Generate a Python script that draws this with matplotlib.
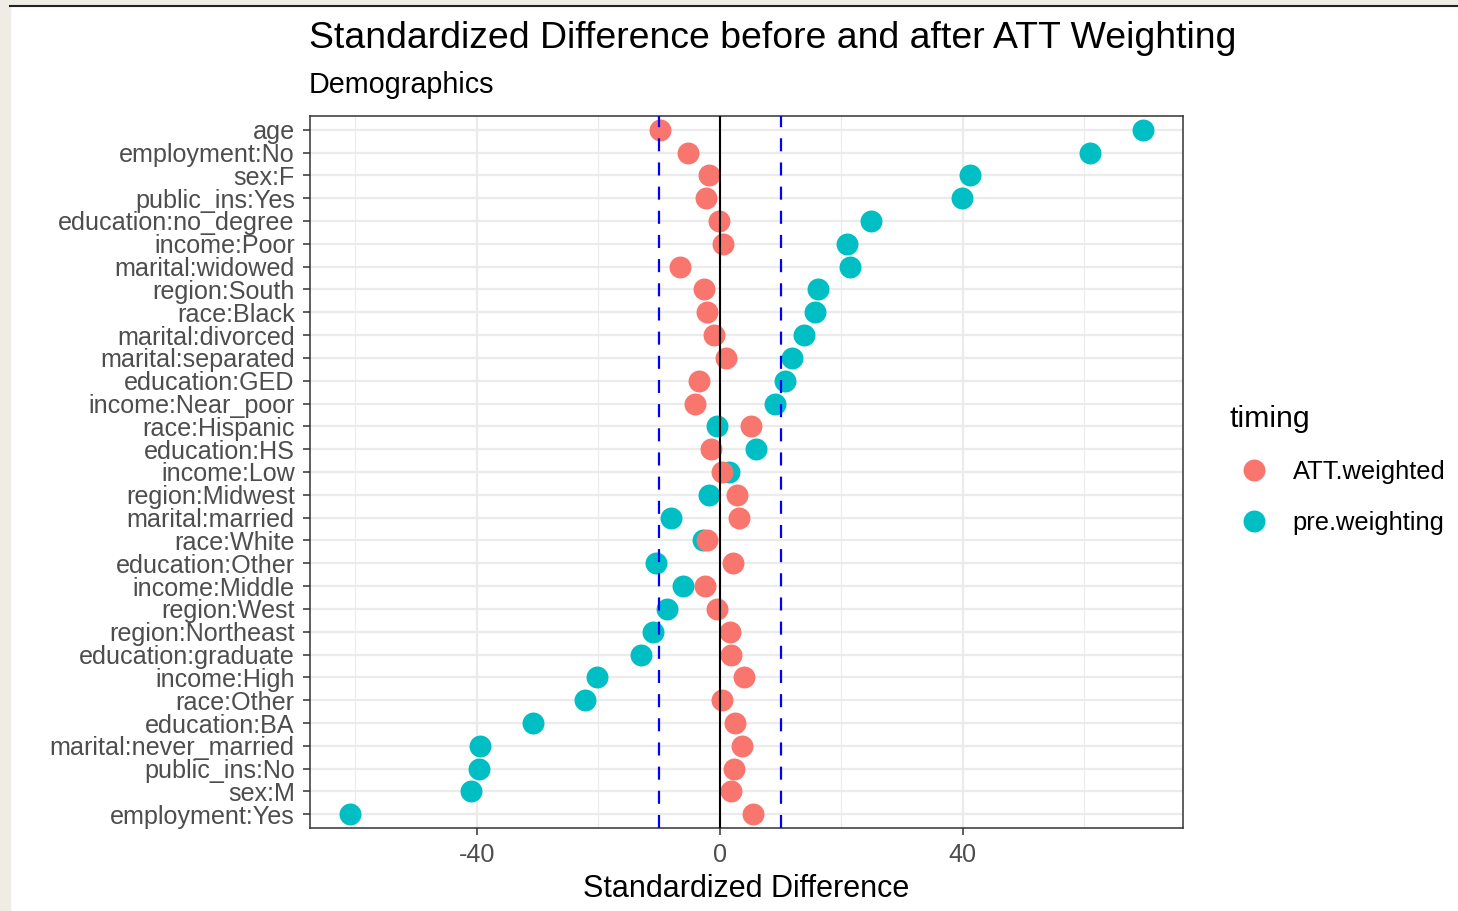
import numpy as np
import matplotlib.pyplot as plt
from matplotlib.lines import Line2D
from matplotlib.patches import Rectangle

plt.rcParams['font.family'] = ['Liberation Sans', 'DejaVu Sans']
plt.rcParams['lines.scale_dashes'] = False

# covariates, top to bottom
covariates = ['age', 'employment:No', 'sex:F', 'public_ins:Yes', 'education:no_degree',
              'income:Poor', 'marital:widowed', 'region:South', 'race:Black',
              'marital:divorced', 'marital:separated', 'education:GED', 'income:Near_poor',
              'race:Hispanic', 'education:HS', 'income:Low', 'region:Midwest',
              'marital:married', 'race:White', 'education:Other', 'income:Middle',
              'region:West', 'region:Northeast', 'education:graduate', 'income:High',
              'race:Other', 'education:BA', 'marital:never_married', 'public_ins:No',
              'sex:M', 'employment:Yes']

pre_weighting = [69.7, 61.0, 41.1, 39.9, 24.9, 21.0, 21.5, 16.1, 15.6, 13.8, 11.9,
                 10.7, 9.1, -0.4, 5.9, 1.5, -1.7, -8.0, -2.8, -10.5, -6.1, -8.7,
                 -11.0, -13.0, -20.2, -22.2, -30.8, -39.5, -39.7, -40.9, -60.9]

att_weighted = [-9.9, -5.3, -1.8, -2.2, -0.2, 0.5, -6.5, -2.6, -2.1, -0.9, 1.0,
                -3.4, -4.1, 5.1, -1.5, 0.4, 2.8, 3.2, -2.1, 2.1, -2.5, -0.5,
                1.7, 1.9, 4.0, 0.4, 2.5, 3.6, 2.3, 1.8, 5.5]

timing = ['ATT.weighted', 'pre.weighting']
colors = ['#F8766D', '#00BFC4']

W, H = 1458, 911
fig = plt.figure(figsize=(W/100, H/100), dpi=100)

# screenshot frame
fig.patches.append(Rectangle((0, 0), 10/W, 1, transform=fig.transFigure, color='#EEECE5', zorder=0))
fig.patches.append(Rectangle((0, 1-5/H), 1, 5/H, transform=fig.transFigure, color='#EEECE5', zorder=0))
fig.lines.append(Line2D([10/W, 1], [1-5.5/H, 1-5.5/H], transform=fig.transFigure, color='#222222', lw=1.5))

ax = fig.add_axes([310/W, 1-828/H, (1183-310)/W, (828-116)/H])

y = np.arange(len(covariates))
ax.scatter(pre_weighting, y, s=250, color=colors[1], linewidths=0, zorder=3)
ax.scatter(att_weighted, y, s=250, color=colors[0], linewidths=0, zorder=3)

ax.axvline(0, color='black', lw=1.5, zorder=4)
for v in (-10, 10):
    ax.axvline(v, color='#0000FF', lw=1.6, dashes=(9.4, 8), zorder=4)

allx = pre_weighting + att_weighted
lo, hi = min(allx), max(allx)
pad = 0.05*(hi-lo)
ax.set_xlim(lo-pad, hi+pad)
ax.set_ylim(len(covariates)-0.4, -0.6)

ax.set_yticks(y)
ax.set_yticklabels(covariates)
ax.set_xticks([-40, 0, 40])
ax.set_xticks([-60, -20, 20, 60], minor=True)
ax.set_xticklabels(['-40', '0', '40'])

ax.grid(True, which='major', color='#EBEBEB', lw=1.6, zorder=0)
ax.grid(True, which='minor', axis='x', color='#EBEBEB', lw=0.8, zorder=0)
ax.set_axisbelow(True)
for s in ax.spines.values():
    s.set_color('#333333')
    s.set_linewidth(1.1)
ax.tick_params(which='major', length=5, width=1.1, color='#333333', labelcolor='#4D4D4D',
               labelsize=18.1, pad=6)
ax.tick_params(which='minor', length=0)

ax.set_xlabel('Standardized Difference', fontsize=22, color='black', labelpad=5)

fig.text(309/W, 1-48/H, 'Standardized Difference before and after ATT Weighting',
         fontsize=26.9, ha='left', va='baseline')
fig.text(309/W, 1-93/H, 'Demographics', fontsize=20.7, ha='left', va='baseline')

handles = [Line2D([], [], ls='none', marker='o', ms=15.8, color=c, markeredgewidth=0) for c in colors]
fig.legend(handles, timing, title='timing', loc='upper left',
           bbox_to_anchor=(1230/W, 1-405/H), bbox_transform=fig.transFigure,
           frameon=False, fontsize=18.4, title_fontsize=21.8, handlelength=1.85,
           handletextpad=0.6, labelspacing=1.05, borderpad=0, borderaxespad=0,
           alignment='left')

fig.savefig('out.png', dpi=100)
